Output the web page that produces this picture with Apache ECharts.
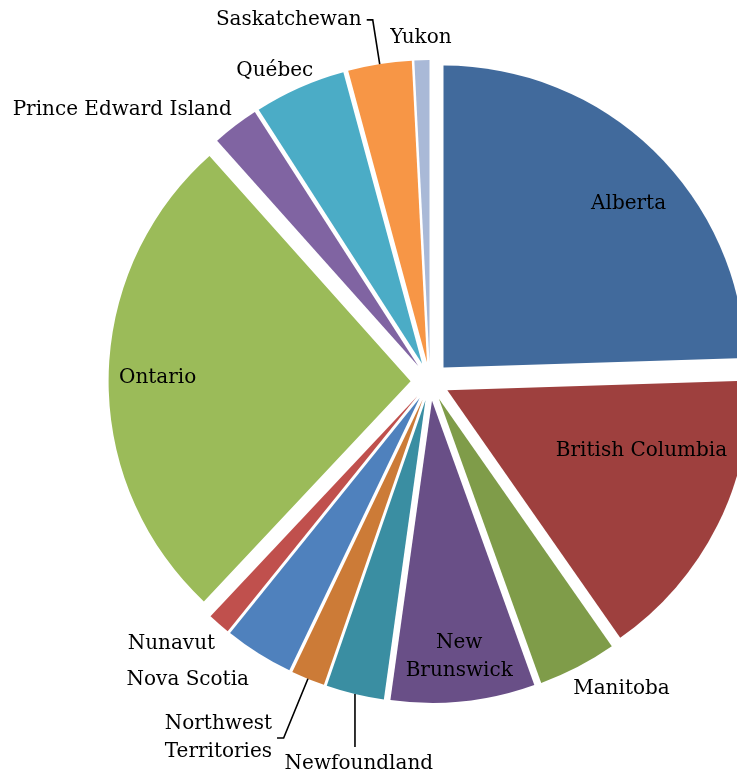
<!DOCTYPE html>
<html>
<head>
<meta charset="utf-8">
<script src="https://cdn.jsdelivr.net/npm/echarts@6/dist/echarts.min.js"></script>
<style>
html,body{margin:0;padding:0;background:#fff;}
#chart{width:737px;height:774px;}
</style>
</head>
<body>
<div id="chart"></div>
<script>
// ---- data ----
const provinces = ['Alberta','British Columbia','Manitoba','New Brunswick','Newfoundland','Northwest Territories','Nova Scotia','Nunavut','Ontario','Prince Edward Island','Québec','Saskatchewan','Yukon'];
const labelTexts = ['Alberta','British Columbia','Manitoba','New\nBrunswick','Newfoundland','Northwest\nTerritories','Nova Scotia','Nunavut','Ontario','Prince Edward Island','Québec','Saskatchewan','Yukon'];
const shares = [24.5,15.8,4.2,7.7,3.1,1.8,3.7,1.2,26.4,2.5,4.9,3.4,0.8];

// ---- styles ----
const colors = ['#416A9C','#9E403E','#7F9C49','#694F87','#3A8EA2','#CC7B37','#4F81BD','#C0504D','#9BBB59','#8064A2','#4BACC6','#F79646','#A9B9D7'];
const insideLabels = ['Alberta','British Columbia','New Brunswick','Ontario'];
// outside label leader settings: [length, length2, showLine]
const outsideLine = {
  'Manitoba':[24.6,-20.8,false],
  'Newfoundland':[52,0,true],
  'Northwest Territories':[64,6.6,true],
  'Nova Scotia':[30.9,-11.8,false],
  'Nunavut':[25.9,-18.1,false],
  'Prince Edward Island':[20.2,-13.5,false],
  'Québec':[19,-26.4,false],
  'Saskatchewan':[44.7,6,true],
  'Yukon':[22.6,-35.3,false]
};
const labelNudge = {'Alberta':[9,18],'British Columbia':[-32,-53],'New Brunswick':[1,4],'Newfoundland':[21,19]};
const centeredLabels = ['Newfoundland'];
const verticalLeader = {'Newfoundland':53};

const CENTER = [430, 381.5];
const R = 302;
const EXPLODE = 19.4;

const font = {fontFamily:'DejaVu Serif', fontSize:20, color:'#000', lineHeight:28};

const chart = echarts.init(document.getElementById('chart'), null, {renderer:'canvas'});

const pieData = provinces.map((name,i)=>({
  name, value: shares[i], selected: true,
  itemStyle:{color: colors[i]}
}));

const labelData = provinces.map((name,i)=>{
  const item = {name, value: shares[i]};
  if (insideLabels.includes(name)) {
    item.label = Object.assign({position:'inside'}, font);
    item.labelLine = {show:false};
  } else {
    const o = outsideLine[name];
    item.label = Object.assign({position:'outside', distanceToLabelLine:5}, font);
    item.labelLine = {show:o[2], length:o[0], length2:o[1], smooth:false,
      lineStyle:{color:'#000', width:1.6}};
  }
  return item;
});

chart.setOption({
  animation:false,
  backgroundColor:'#fff',
  series:[
    {
      type:'pie',
      center: CENTER,
      radius:[0, R],
      startAngle:90,
      clockwise:true,
      selectedMode:'multiple',
      selectedOffset: EXPLODE,
      avoidLabelOverlap:false,
      label:{show:false},
      labelLine:{show:false},
      itemStyle:{borderWidth:0},
      select:{itemStyle:{borderWidth:0}},
      emphasis:{disabled:true},
      silent:true,
      data: pieData
    },
    {
      type:'pie',
      center: CENTER,
      radius:[R + EXPLODE - 104, R + EXPLODE],
      startAngle:90,
      clockwise:true,
      selectedMode:false,
      avoidLabelOverlap:false,
      silent:true,
      z:5,
      emphasis:{disabled:true},
      itemStyle:{color:'rgba(0,0,0,0)', borderWidth:0},
      label:{show:true, formatter:p=>labelTexts[p.dataIndex]},
      labelLayout:function(p){
        const name = provinces[p.dataIndex];
        const out = {hideOverlap:false};
        const n = labelNudge[name];
        if (n) { out.dx = n[0]; out.dy = n[1]; }
        if (centeredLabels.includes(name)) out.align = 'center';
        const v = verticalLeader[name];
        if (v && p.labelLinePoints && p.labelLinePoints.length) {
          const p0 = p.labelLinePoints[0];
          out.labelLinePoints = [[p0[0], p0[1]], [p0[0], p0[1] + v]];
        }
        return out;
      },
      data: labelData
    }
  ]
});
</script>
</body>
</html>
